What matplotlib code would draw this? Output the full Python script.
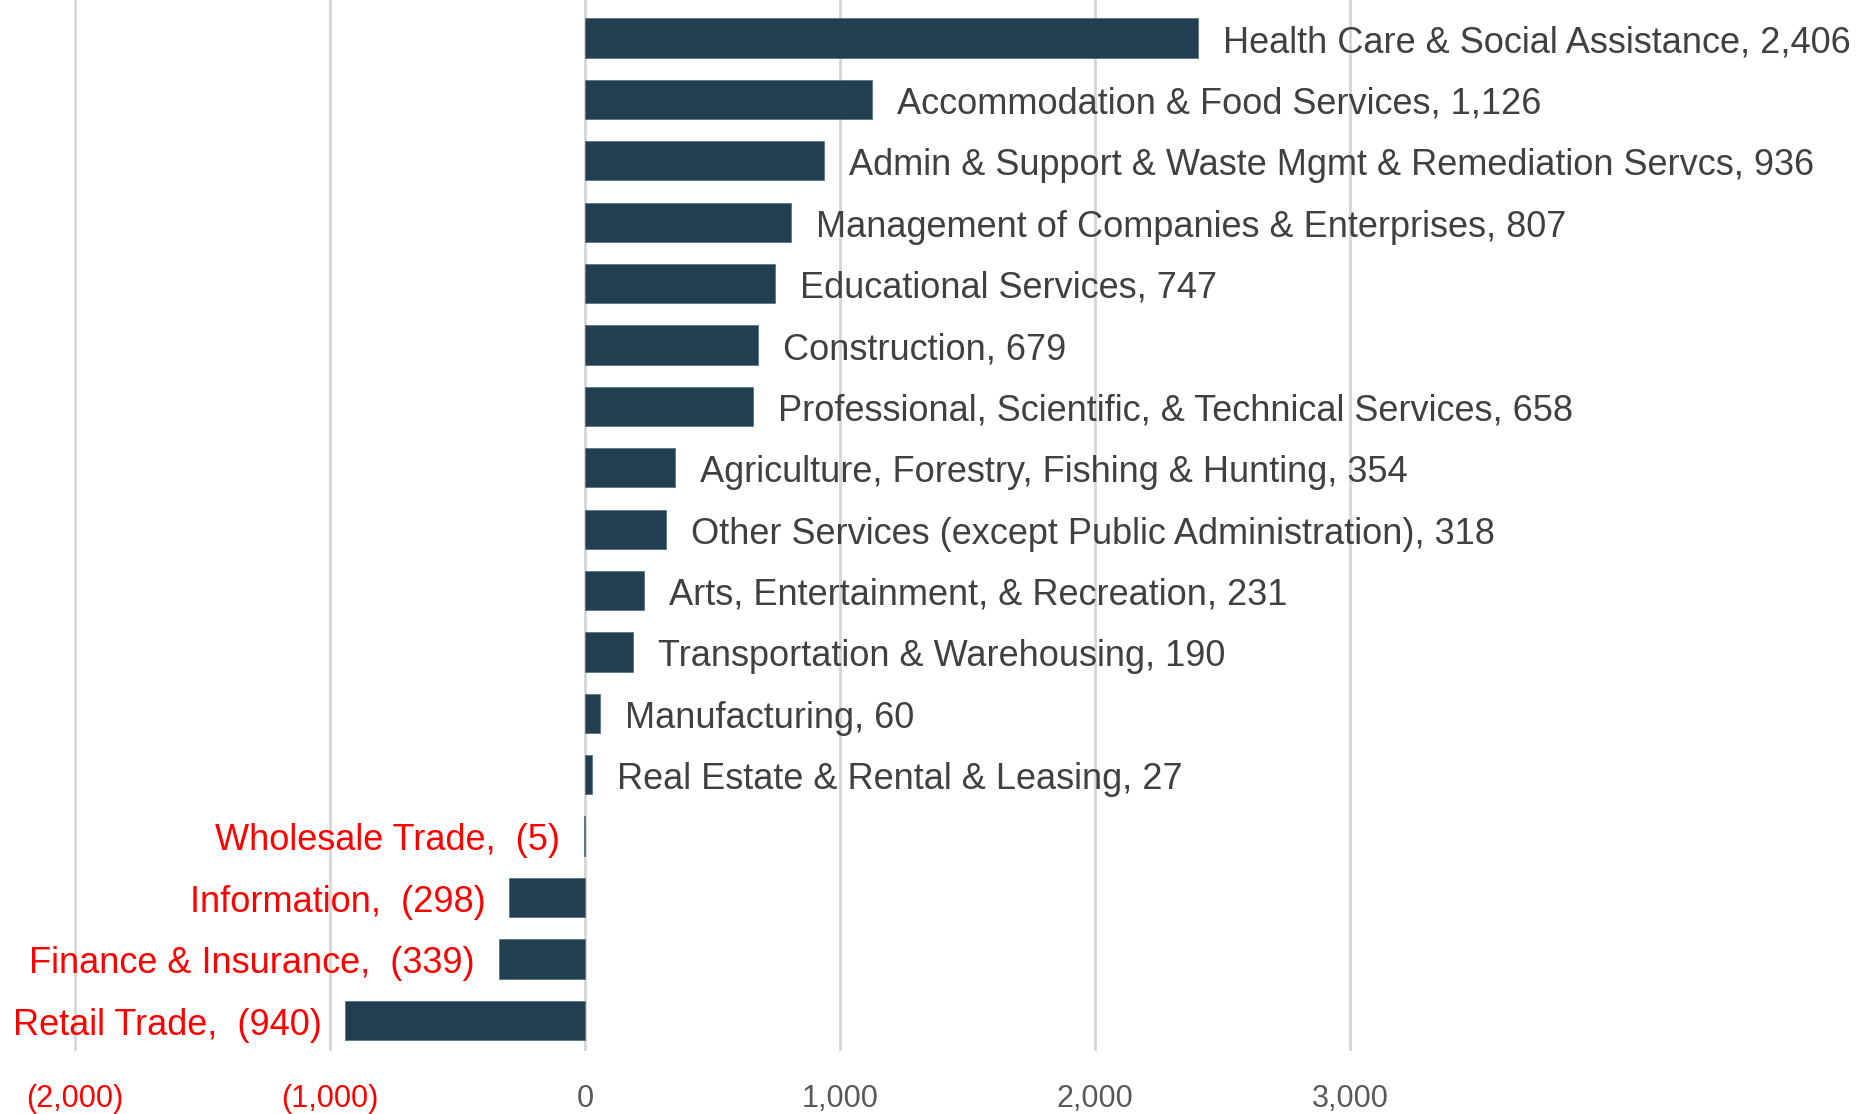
import matplotlib.pyplot as plt
from matplotlib import font_manager

industries = ['Health Care & Social Assistance', 'Accommodation & Food Services',
              'Admin & Support & Waste Mgmt & Remediation Servcs',
              'Management of Companies & Enterprises', 'Educational Services',
              'Construction', 'Professional, Scientific, & Technical Services',
              'Agriculture, Forestry, Fishing & Hunting',
              'Other Services (except Public Administration)',
              'Arts, Entertainment, & Recreation', 'Transportation & Warehousing',
              'Manufacturing', 'Real Estate & Rental & Leasing', 'Wholesale Trade',
              'Information', 'Finance & Insurance', 'Retail Trade']
changes = [2406, 1126, 936, 807, 747, 679, 658, 354, 318, 231, 190, 60, 27,
           -5, -298, -339, -940]
ticks = [-2000, -1000, 0, 1000, 2000, 3000]

names = [f.name for f in font_manager.fontManager.ttflist]
fam = 'Liberation Sans Narrow' if 'Liberation Sans Narrow' in names else 'Liberation Sans'
plt.rcParams['font.family'] = [fam, 'DejaVu Sans']

bar_color = '#213f50'

fig = plt.figure(figsize=(18.62, 11.14), dpi=100)
ax = fig.add_axes([0, 0.0566, 1, 0.9434])

y = list(range(len(industries)))
ax.barh(y, changes, height=0.64, color=bar_color, edgecolor='#5a7482', linewidth=0.6, zorder=3)

def fmt(v):
    return '{:,}'.format(v) if v >= 0 else '({:,})'.format(-v)

# value labels next to each bar
for i, (name, v) in enumerate(zip(industries, changes)):
    if v >= 0:
        ax.annotate('%s, %s' % (name, fmt(v)), (v, i), xytext=(18, -3.5),
                    textcoords='offset points', va='center', ha='left',
                    fontsize=26, color='#404040')
    else:
        ax.annotate('%s,  %s' % (name, fmt(v)), (v, i), xytext=(-17, -3.5),
                    textcoords='offset points', va='center', ha='right',
                    fontsize=26, color='#ff0000')

ax.set_xlim(-2294, 5008)
ax.set_ylim(len(industries) - 0.5, -0.62)
ax.set_xticks(ticks)
ax.set_xticklabels([fmt(t) for t in ticks], fontsize=22)
for lbl, t in zip(ax.get_xticklabels(), ticks):
    lbl.set_color('#ff0000' if t < 0 else '#595959')
ax.tick_params(axis='x', length=0, pad=24)
ax.set_yticks([])
ax.grid(axis='x', color='#d6d6d6', linewidth=2)
for s in ax.spines.values():
    s.set_visible(False)

plt.savefig('out.png')
